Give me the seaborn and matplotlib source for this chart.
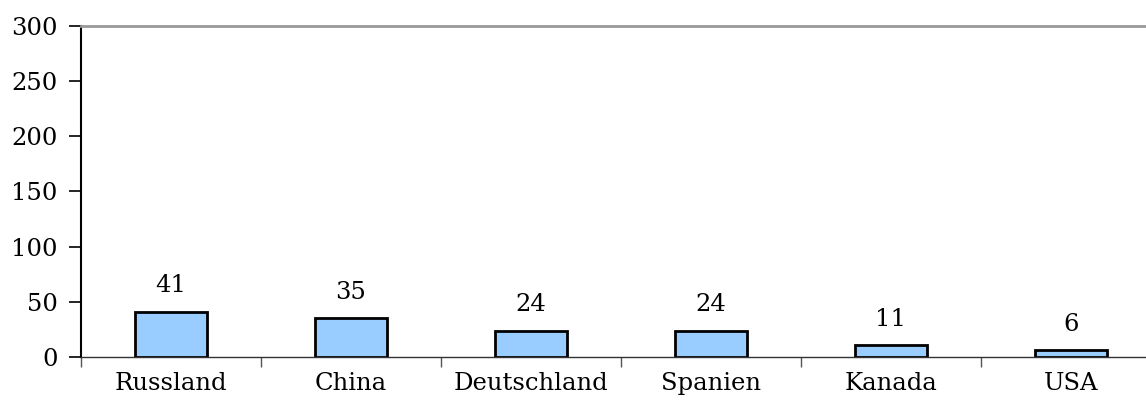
import pandas as pd
import seaborn as sns
import matplotlib.pyplot as plt

# data
countries = ['Russland', 'China', 'Deutschland', 'Spanien', 'Kanada', 'USA']
values = [41, 35, 24, 24, 11, 6]
y_ticks = [0, 50, 100, 150, 200, 250, 300]

df = pd.DataFrame({'land': countries, 'wert': values})

sns.set_style('white')
plt.rcParams['font.family'] = ['DejaVu Serif']
plt.rcParams['text.color'] = 'black'
plt.rcParams['xtick.color'] = 'black'
plt.rcParams['ytick.color'] = 'black'

fig = plt.figure(figsize=(11.46, 4.04), dpi=100)
# axes runs past the right edge, like the original
ax = fig.add_axes([81 / 1146, (404 - 357) / 404, 1080 / 1146, 331 / 404])

sns.barplot(data=df, x='land', y='wert', color='#99ccff', width=0.4,
            edgecolor='black', linewidth=2, saturation=1, ax=ax)

for i, v in enumerate(values):
    ax.text(i, v + 13, str(v), ha='center', va='bottom', fontsize=17.5, color='black')

ax.set_xlim(-0.5, len(countries) - 0.5)
ax.set_ylim(0, 300)
ax.set_yticks(y_ticks)
ax.set_xticks(range(len(countries)))
ax.set_xticklabels(countries)
ax.set_xticks([i - 0.5 for i in range(len(countries) + 1)], minor=True)
ax.tick_params(axis='x', which='major', bottom=False, length=0, labelsize=17.5, pad=11)
ax.tick_params(axis='x', which='minor', bottom=True, length=7, width=1, color='#555555', direction='out')
ax.tick_params(axis='y', left=True, length=9, width=1.2, color='black', direction='out', labelsize=17.5, pad=8)
ax.set_xlabel('')
ax.set_ylabel('')

ax.spines['left'].set_color('black')
ax.spines['left'].set_linewidth(1.5)
ax.spines['bottom'].set_color('#333333')
ax.spines['bottom'].set_linewidth(1)
ax.spines['top'].set_color('#999999')
ax.spines['top'].set_linewidth(2)
ax.spines['right'].set_visible(False)

plt.savefig('out.png', dpi=100)
plt.close()
